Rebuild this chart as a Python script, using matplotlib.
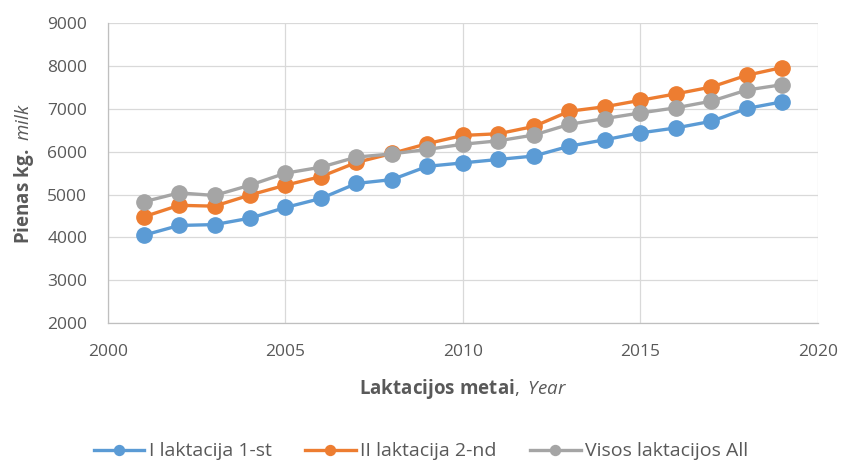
import matplotlib
matplotlib.use("Agg")
import matplotlib.pyplot as plt

years = list(range(2001, 2020))
lact1 = [4050, 4280, 4300, 4450, 4700, 4910, 5260, 5350, 5660, 5740, 5820, 5900, 6130, 6280, 6440, 6555, 6710, 7010, 7165]
lact2 = [4480, 4750, 4730, 4990, 5220, 5420, 5750, 5960, 6190, 6380, 6420, 6590, 6945, 7050, 7200, 7350, 7510, 7785, 7965]
all_l = [4830, 5040, 4980, 5220, 5500, 5640, 5875, 5950, 6055, 6175, 6255, 6390, 6640, 6775, 6905, 7025, 7180, 7440, 7565]
names = ["I laktacija 1-st", "II laktacija 2-nd", "Visos laktacijos All"]
colors = ["#5B9BD5", "#ED7D31", "#A5A5A5"]

plt.rcParams['font.family'] = ['Open Sans', 'DejaVu Sans']
plt.rcParams['mathtext.fontset'] = 'custom'
plt.rcParams['mathtext.rm'] = 'Open Sans'
plt.rcParams['mathtext.bf'] = 'Open Sans:bold'
plt.rcParams['mathtext.it'] = 'Open Sans:italic'

fig = plt.figure(figsize=(8.44, 4.63), dpi=100)
ax = fig.add_axes([0.128, 0.302, 0.841, 0.648])

for vals, name, c in zip([lact1, lact2, all_l], names, colors):
    ax.plot(years, vals, color=c, lw=2.4, marker='o', markersize=11, label=name, zorder=3)

ax.set_xlim(2000, 2020)
ax.set_ylim(2000, 9000)
ax.set_xticks(range(2000, 2021, 5))
ax.set_yticks(range(2000, 9001, 1000))
ax.grid(True, color='#D9D9D9', lw=0.9)
ax.set_axisbelow(True)
for s in ['top', 'right']:
    ax.spines[s].set_visible(False)
for s in ['left', 'bottom']:
    ax.spines[s].set_color('#BFBFBF')
    ax.spines[s].set_linewidth(0.9)
ax.tick_params(axis='y', length=0, labelsize=12.5, labelcolor='#595959', pad=15)
ax.tick_params(axis='x', length=0, labelsize=12.5, labelcolor='#595959', pad=15)

ax.set_ylabel(r"$\mathbf{Pienas\ kg.}\ \mathit{milk}$", fontsize=13.5, color='#595959', labelpad=8)
ax.set_xlabel(r"$\mathbf{Laktacijos\ metai},\ \mathit{Year}$", fontsize=13.5, color='#595959', labelpad=12)

leg = fig.legend(loc='center', bbox_to_anchor=(0.499, 0.025), ncol=3, frameon=False,
                 fontsize=14, handlelength=2.6, columnspacing=1.7, handletextpad=0.25,
                 markerscale=0.65)
for t in leg.get_texts():
    t.set_color('#595959')

fig.savefig("out.png", dpi=100)
